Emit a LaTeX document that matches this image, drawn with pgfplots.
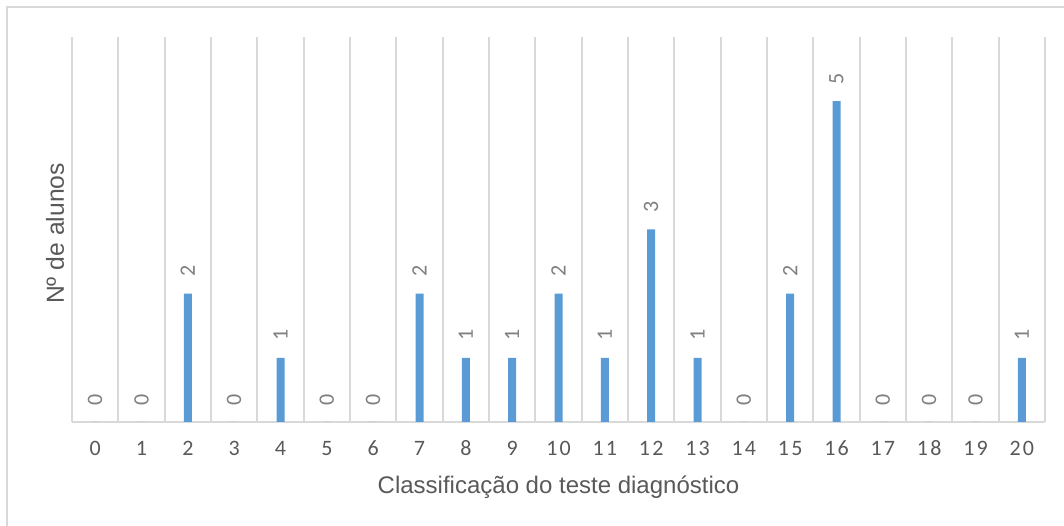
\documentclass[border=0pt]{standalone}
\usepackage{pgfplots}
\pgfplotsset{compat=1.18}
\usepackage{fontspec}
\setmainfont{Liberation Sans}
\newfontfamily\calib[LetterSpace=10]{Carlito}
\newfontfamily\calibn{Carlito}
\definecolor{barblue}{HTML}{5B9BD5}
\definecolor{gridgray}{HTML}{D9D9D9}
\definecolor{ticktext}{HTML}{595959}
\definecolor{lbltext}{HTML}{7F7F7F}
\begin{document}
\begin{tikzpicture}
\path[use as bounding box] (0,0) rectangle (798pt,393.75pt);
\draw[gridgray, line width=1.3pt] (5.25pt,-2pt) -- (5.25pt,388.5pt) -- (802pt,388.5pt);
\begin{axis}[
  at={(54pt,77.25pt)}, anchor=south west,
  scale only axis, width=729.75pt, height=288.75pt,
  xmin=-0.5, xmax=20.5, ymin=0, ymax=6,
  ybar, bar width=6pt,
  axis y line*=left, y axis line style={draw=none}, ytick=\empty,
  axis x line*=bottom,
  x axis line style={gridgray, line width=1.3pt},
  /pgf/number format/assume math mode=true,
  xtick={0,...,20}, major tick length=0pt,
  minor xtick={-0.5,0.5,...,20.5}, minor tick length=0pt,
  xminorgrids=true, minor grid style={gridgray, line width=1.3pt},
  xticklabel style={font=\calib\fontsize{16.5}{18}\selectfont, text=ticktext, anchor=base, inner sep=0pt, yshift=-25pt},
  xlabel={Classificação do teste diagnóstico},
  ylabel={Nº de alunos},
  every axis x label/.style={at={(axis description cs:0.5,0)}, anchor=center, yshift=-48.75pt, font=\fontsize{18}{20}\selectfont, text=ticktext},
  every axis y label/.style={at={(axis description cs:0,0.5)}, xshift=-12.75pt, yshift=-3pt, anchor=center, rotate=90, font=\fontsize{18.5}{20}\selectfont, text=ticktext},
  nodes near coords,
  every node near coord/.append style={rotate=90, anchor=west, inner xsep=12.5pt, inner ysep=0pt, font=\calibn\fontsize{16.5}{18}\selectfont, text=lbltext},
  clip=false,
]
\addplot[fill=barblue, draw=none] coordinates {
(0,0) (1,0) (2,2) (3,0) (4,1) (5,0) (6,0) (7,2) (8,1) (9,1) (10,2)
(11,1) (12,3) (13,1) (14,0) (15,2) (16,5) (17,0) (18,0) (19,0) (20,1)
};
\end{axis}
\end{tikzpicture}
\end{document}
